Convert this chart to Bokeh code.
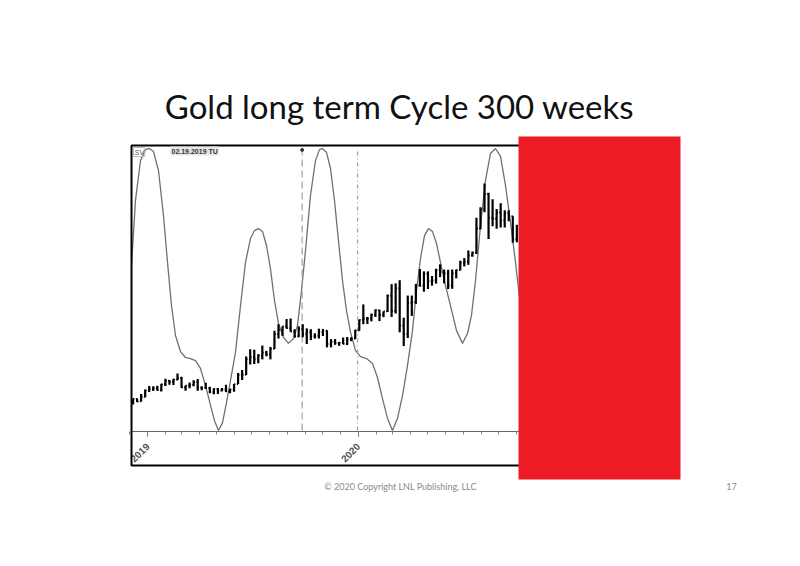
import pandas as pd
from math import pi
from bokeh.plotting import figure
from bokeh.models import (Range1d, DatetimeTickFormatter, FixedTicker, Label,
                          BoxAnnotation, ColumnDataSource)
from bokeh.embed import file_html
from bokeh.resources import INLINE

# ---------------- data ----------------
first_week_end = "2018-12-07"   # weekly bars, week ending Friday
opens = [1232,1248,1239,1256,1281,1286,1290,1282,1304,1318, 1314,1322,1329,1293,1299,1302,1313,1292,1291,1290,
         1275,1286,1280,1285,1277,1285,1305,1341,1341,1400, 1409,1400,1415,1426,1419,1440,1497,1513,1527,1520,
         1507,1488,1516,1497,1505,1489,1490,1505,1510,1459, 1468,1462,1464,1460,1476,1480,1511,1552,1557,1557,
         1571,1589,1570,1584,1644,1586,1673,1530,1498,1617, 1620,1683,1683,1729,1700,1703,1743,1735,1730,1684,
         1730,1743,1771,1775,1799,1810,1902,1976,2035,1944, 1940,1964,1934,1962,1950,1861]
highs = [1250,1250,1267,1284,1298,1297,1299,1306,1326,1321, 1326,1346,1333,1300,1311,1320,1325,1296,1310,1295,
         1289,1290,1290,1303,1287,1305,1348,1359,1411,1439, 1437,1420,1453,1433,1448,1510,1535,1527,1555,1557,
         1516,1527,1535,1519,1516,1500,1518,1517,1512,1478, 1478,1466,1484,1486,1485,1514,1553,1611,1563,1576,
         1592,1590,1584,1649,1689,1692,1704,1560,1645,1645, 1690,1747,1738,1738,1720,1748,1765,1745,1744,1745,
         1745,1779,1789,1818,1814,1944,1984,2075,2040,2015, 1977,2000,1973,1973,1950,1917]
lows = [1227,1236,1238,1255,1275,1279,1280,1277,1298,1303, 1302,1320,1290,1280,1289,1297,1280,1281,1286,1270,
        1266,1267,1278,1275,1270,1276,1305,1321,1340,1380, 1382,1385,1400,1412,1400,1440,1480,1490,1518,1506,
        1484,1485,1485,1459,1474,1480,1480,1490,1446,1446, 1456,1452,1458,1455,1470,1478,1510,1535,1536,1546,
        1563,1547,1562,1582,1563,1576,1504,1451,1482,1567, 1613,1680,1660,1670,1683,1691,1716,1692,1670,1671,
        1711,1742,1757,1763,1794,1805,1900,1965,1862,1911, 1902,1906,1906,1930,1848,1850]
closes = [1248,1238,1256,1281,1286,1290,1282,1304,1318,1314, 1322,1329,1293,1299,1302,1313,1292,1291,1290,1275,
          1286,1280,1285,1277,1285,1305,1341,1341,1400,1409, 1400,1415,1426,1419,1440,1497,1513,1527,1520,1507,
          1488,1516,1497,1505,1489,1490,1505,1510,1459,1468, 1462,1464,1460,1476,1480,1511,1552,1557,1557,1571,
          1589,1570,1584,1644,1586,1673,1530,1498,1617,1620, 1683,1683,1729,1700,1703,1743,1735,1730,1684,1730,
          1743,1771,1775,1799,1810,1902,1976,2035,1944,1940, 1964,1934,1962,1950,1861,1900]

# cycle curve: days after 2019-01-01 and cycle value (0 = trough, 100 = crest)
cycle_days = [-27.7,-20.8,-12.1,-3.5,3.5,10.4,19.1,27.7,34.7,41.6, 48.5,57.2,65.8,74.5,83.2,91.8,100.5,109.2,116.1,123.0,
              130.0,136.9,143.8,152.5,161.2,169.8,178.5,185.4,192.3,199.3, 206.2,213.1,220.1,227.0,235.7,244.3,253.0,259.9,266.9,273.8,
              282.4,291.1,298.0,303.2,310.2,317.1,324.0,330.9,337.9,344.8, 351.8,360.4,369.1,379.5,389.9,398.5,407.2,415.9,424.5,433.2,
              441.9,450.5,459.2,466.1,473.1,480.0,486.9,493.8,500.8,507.7, 516.4,525.0,535.4,545.8,554.5,561.4,568.4,577.0,585.7,594.3,
              603.0,611.7,620.3,629.0,637.7,646.3]
cycle_vals = [58.5,81.6,95.7,99.6,100,98.9,92.2,76.2,59.6,44.3, 33.7,28.0,25.9,25.5,24.8,22.0,16.0,8.9,3.5,0,
              2.8,9.9,17.7,27.7,44.3,59.6,68.1,70.9,71.6,70.6, 65.6,57.4,46.1,37.9,33.0,30.9,32.6,37.2,49.6,63.8,
              83.3,95.7,99.6,100,98.6,92.9,81.6,67.4,53.2,42.6, 34.8,28.4,26.2,25.5,23.8,18.8,11.3,4.3,0,4.3,
              12.4,23.0,35.5,49.6,61.0,69.1,71.6,70.6,66.3,59.6, 51.4,44.3,35.5,30.9,34.4,40.8,53.2,72.7,88.7,98.2,
              100,97.2,86.9,73.8,59.6,44.3]

marker_dates = ["2019-09-26", "2019-12-31"]
marker_dashes = ["7 4", "4 3 1 3"]
tick_years = ["2019-01-01", "2020-01-01"]
axis_price = 1123          # price level of the chart's baseline

title_text = "Gold long term Cycle 300 weeks"
footer_text = "\u00a9 2020 Copyright LNL Publishing, LLC"
page_text = "17"

# ---------------- helpers ----------------
def ms(ts):
    return pd.Timestamp(ts).value / 1e6

DAY = 86400000.0
base = ms("2019-01-01")
dates = pd.date_range(first_week_end, periods=len(opens), freq="W-FRI")
xs = [ms(d) for d in dates]
half = 2.2 * DAY

bars = ColumnDataSource(dict(x=xs, xl=[x - half for x in xs], xr=[x + half for x in xs],
                             o=opens, h=highs, l=lows, c=closes))
cyc = ColumnDataSource(dict(x=[base + d * DAY for d in cycle_days], y=cycle_vals))

W, H = 784, 550
p = figure(width=W, height=H, output_backend="svg", toolbar_location=None,
           x_axis_type="datetime",
           x_range=Range1d(base - 254.7 * DAY, base + 1103.8 * DAY),
           y_range=Range1d(666.1, 2778.1),
           min_border=0, min_border_left=0, min_border_right=0,
           min_border_top=0, min_border_bottom=0)
p.extra_y_ranges = {"cyc": Range1d(-42.55, 152.48)}
p.background_fill_color = "white"
p.border_fill_color = "white"
p.outline_line_color = None
p.grid.visible = False
p.yaxis.visible = False

# x axis drawn at the chart's baseline
ax = p.xaxis[0]
ax.fixed_location = axis_price
ax.bounds = (base - 27.7 * DAY, base + 870 * DAY)
ax.ticker = FixedTicker(ticks=[ms(t) for t in tick_years],
                        minor_ticks=[ms(t) for t in pd.date_range("2018-12-01", "2021-04-01", freq="MS")])
ax.formatter = DatetimeTickFormatter(days="%Y", months="%Y", years="%Y")
ax.major_label_orientation = pi / 4
ax.major_label_text_font = "Liberation Sans"
ax.major_label_text_font_size = "10px"
ax.major_label_text_font_style = "bold"
ax.major_label_text_color = "#555555"
ax.major_label_standoff = 8
ax.axis_line_color = "#666666"
ax.major_tick_line_color = "#666666"
ax.minor_tick_line_color = "#888888"
ax.major_tick_in = 0
ax.major_tick_out = 5
ax.minor_tick_in = 0
ax.minor_tick_out = 3

# chart box
p.add_layout(BoxAnnotation(left=131, right=660, top=H - 145, bottom=H - 465,
                           left_units="screen", right_units="screen",
                           top_units="screen", bottom_units="screen",
                           fill_alpha=0, line_color="black", line_alpha=1.0, line_width=2))

# cycle curve
p.line("x", "y", source=cyc, y_range_name="cyc", line_color="#707070", line_width=1.3)

# vertical markers
for d, dash in zip(marker_dates, marker_dashes):
    p.segment(x0=[ms(d)], x1=[ms(d)], y0=[0], y1=[99.5], y_range_name="cyc",
              line_color="#a0a0a0", line_width=1.2, line_dash=dash)
p.scatter(x=[ms(marker_dates[0])], y=[99.5], y_range_name="cyc", size=3, color="#333333")

# OHLC bars
p.segment("x", "l", "x", "h", source=bars, line_color="black", line_width=2.2)
p.segment("xl", "o", "x", "o", source=bars, line_color="black", line_width=1.8)
p.segment("x", "c", "xr", "c", source=bars, line_color="black", line_width=1.8)

# small chart annotations
p.add_layout(Label(x=133, y=H - 147, x_units="screen", y_units="screen", text="SV",
                   text_font="Liberation Sans", text_font_size="7px", text_font_style="italic",
                   text_color="#555555", text_baseline="top", border_line_color="#bbbbbb",
                   padding=1))
p.add_layout(Label(x=170, y=H - 146, x_units="screen", y_units="screen", text="02.19.2019 TU",
                   text_font="Liberation Sans", text_font_size="7px", text_font_style="bold",
                   text_color="#333333", text_baseline="top", background_fill_color="#e6e6e6",
                   padding=1))

# slide texts
p.add_layout(Label(x=399, y=H - 105, x_units="screen", y_units="screen", text=title_text,
                   text_font="Lato", text_font_size="33px", text_color="#111111",
                   text_align="center", text_baseline="middle"))
p.add_layout(Label(x=400, y=H - 486, x_units="screen", y_units="screen", text=footer_text,
                   text_font="Lato", text_font_size="9px", text_color="#8a8a8a",
                   text_align="center", text_baseline="middle"))
p.add_layout(Label(x=731, y=H - 486, x_units="screen", y_units="screen", text=page_text,
                   text_font="Lato", text_font_size="9px", text_color="#8a8a8a",
                   text_align="center", text_baseline="middle"))

# red block covering the right part of the chart
p.add_layout(BoxAnnotation(left=518, right=680, top=H - 136, bottom=H - 479,
                           left_units="screen", right_units="screen",
                           top_units="screen", bottom_units="screen",
                           fill_color="#ED1C24", fill_alpha=1.0, line_color=None, level="overlay"))

open("out.html", "w").write(file_html(p, INLINE))
